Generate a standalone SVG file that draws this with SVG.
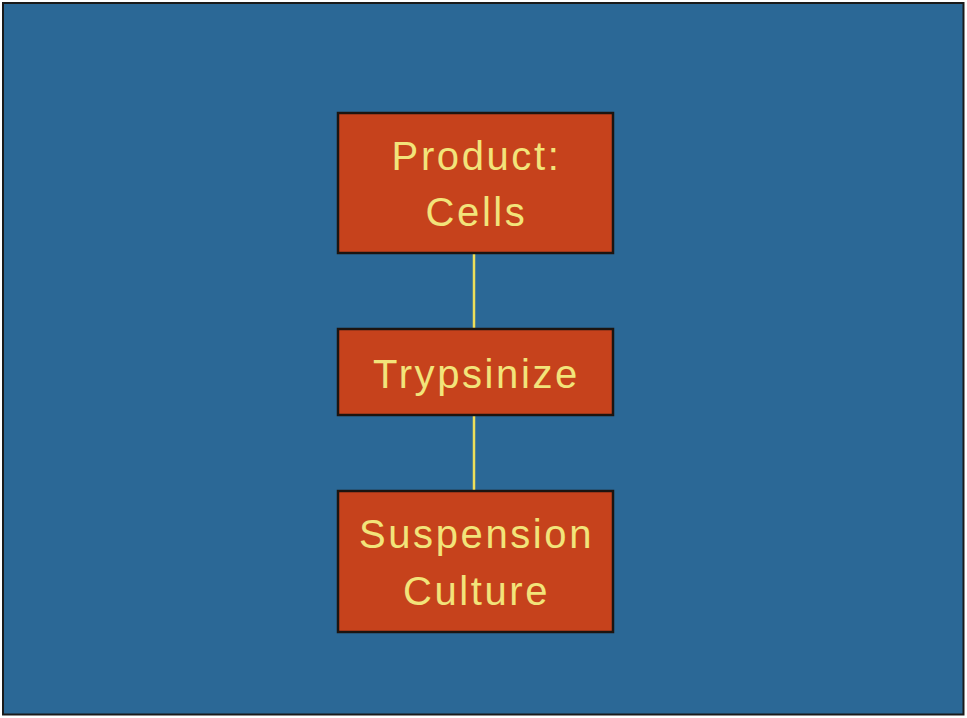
<svg xmlns="http://www.w3.org/2000/svg" width="967" height="718" viewBox="0 0 967 718">
<style>
.box{fill:#c6421c;stroke:#1c1410;stroke-width:2.5}
.lbl{font-family:"Liberation Sans",Arial,sans-serif;font-size:40px;fill:#f2e47a;text-anchor:middle;letter-spacing:2.6px}
.conn{stroke:#eedf5a;stroke-width:2.5;fill:none}
</style>
<rect x="0" y="0" width="967" height="718" fill="#ffffff"/>
<rect x="3" y="3" width="960.5" height="711.5" fill="#2b6896" stroke="#1a1a1a" stroke-width="2"/>
<g id="connectors">
<line class="conn" x1="474" y1="253" x2="474" y2="329"/>
<line class="conn" x1="474" y1="415" x2="474" y2="491"/>
</g>
<g id="node-product">
<rect class="box" x="338" y="113" width="275" height="140"/>
<text class="lbl" x="476.5" y="170">Product:</text>
<text class="lbl" x="476.5" y="226">Cells</text>
</g>
<g id="node-trypsinize">
<rect class="box" x="338" y="329" width="275" height="86"/>
<text class="lbl" x="476.5" y="388">Trypsinize</text>
</g>
<g id="node-suspension">
<rect class="box" x="338" y="491" width="275" height="141"/>
<text class="lbl" x="476.5" y="548">Suspension</text>
<text class="lbl" x="476.5" y="605">Culture</text>
</g>
</svg>
